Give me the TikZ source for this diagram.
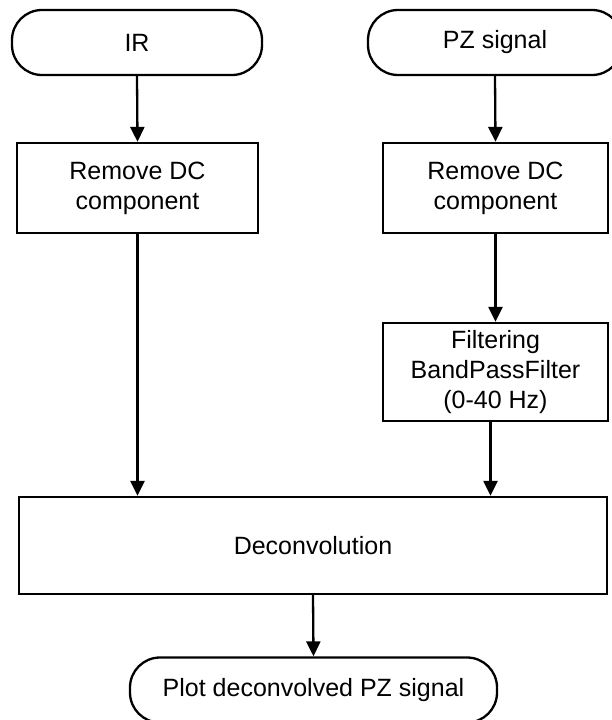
\documentclass[tikz,border=0pt]{standalone}
\usepackage{fontspec}
\setmainfont{Liberation Sans}
\usetikzlibrary{arrows.meta}

\begin{document}
\begin{tikzpicture}[x=1pt, y=-1pt,
	font=\fontsize{25}{30}\selectfont,
	terminal/.style={draw, line width=2.3pt, rounded corners=30pt, inner sep=0pt, align=center},
	block/.style={draw, line width=2.3pt, inner sep=0pt, align=center},
	flow/.style={-{Triangle[length=15pt, width=14pt]}, line width=2.3pt}]
	\useasboundingbox (0,0) rectangle (611,720);
	\node[terminal, minimum width=250pt, minimum height=65pt] (ir) at (137,42.5) {IR};
	\node[terminal, minimum width=254pt, minimum height=65pt] (pz) at (495,42.5) {PZ signal};
	\node[block, minimum width=241pt, minimum height=90pt] (dcir) at (137.5,188) {Remove DC\\component};
	\node[block, minimum width=225pt, minimum height=90pt] (dcpz) at (495.5,188) {Remove DC\\component};
	\node[block, minimum width=225pt, minimum height=98pt] (filt) at (495.5,372) {Filtering\\BandPassFilter\\(0-40 Hz)};
	\node[block, minimum width=588pt, minimum height=97pt] (deconv) at (313,545.5) {Deconvolution};
	\node[terminal, minimum width=367pt, minimum height=65pt] (plot) at (313.5,690) {Plot deconvolved PZ signal};
	\draw[flow] (ir.south) -- (dcir.north);
	\draw[flow] (pz.south) -- (dcpz.north);
	\draw[flow] (dcpz.south) -- (filt.north);
	\draw[flow] (dcir.south) -- (dcir.south |- deconv.north);
	\draw[flow] ([xshift=-5pt]filt.south) -- ([xshift=-5pt]filt.south |- deconv.north);
	\draw[flow] (deconv.south) -- (plot.north);
\end{tikzpicture}
\end{document}
